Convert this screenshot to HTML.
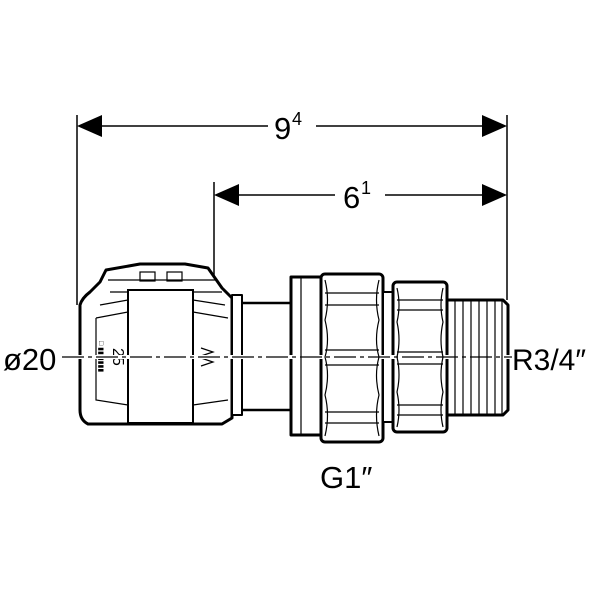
<!DOCTYPE html>
<html><head><style>html,body{margin:0;padding:0;background:#fff}</style></head>
<body>
<svg width="600" height="600" viewBox="0 0 600 600" xmlns="http://www.w3.org/2000/svg" font-family="Liberation Sans, sans-serif">
<rect width="600" height="600" fill="#fff"/>
<g stroke="#000" fill="none" stroke-width="1.5">
<line x1="77" y1="115" x2="77" y2="305"/>
<line x1="214" y1="182" x2="214" y2="345"/>
<line x1="507" y1="115" x2="507" y2="300"/>
<line x1="100" y1="126" x2="268" y2="126"/>
<line x1="316" y1="126" x2="484" y2="126"/>
<line x1="237" y1="195" x2="335" y2="195"/>
<line x1="385" y1="195" x2="484" y2="195"/>
</g>
<g fill="#000">
<polygon points="77,126 102,115 102,137"/>
<polygon points="507,126 482,115 482,137"/>
<polygon points="214,195 239,184 239,206"/>
<polygon points="507,195 482,184 482,206"/>
</g>
<text x="274" y="139" font-size="31">9</text><text x="292" y="125" font-size="18">4</text>
<text x="343" y="208" font-size="31">6</text><text x="361" y="194" font-size="18">1</text>
<text x="3" y="370" font-size="31">ø20</text>
<text x="512" y="370" font-size="30">R3/4″</text>
<text x="320" y="488" font-size="31">G1″</text>

<g stroke="#000" stroke-width="3" fill="#fff" stroke-linejoin="round">
<rect x="235" y="303" width="57" height="107" stroke-width="2.5"/>
<path d="M80,305 Q82,298 90,292 L100,282 L106,270 L140,264 L185,264 L208,268 L222,288 L232,298 L232,418 L222,424 L88,424 Q80,420 80,410 Z"/>
<rect x="232" y="295" width="10" height="120" stroke-width="2"/>
<rect x="291" y="277" width="30" height="158"/>
<rect x="321" y="274" width="62" height="168" rx="4"/>
<rect x="383" y="292" width="10" height="130" stroke-width="2"/>
<rect x="393" y="282" width="54" height="150" rx="4"/>
<path d="M447,300 L503,300 L508,305 L508,410 L503,415 L447,415 Z"/>
</g>
<g stroke="#000" stroke-width="1.2" fill="none">
<rect x="128" y="290" width="65" height="133" stroke-width="2"/>
<path d="M96,318 L128,312 M96,318 L96,400 L128,405 M193,312 L228,318 M193,405 L228,400"/>
<rect x="140" y="272" width="15" height="9"/><rect x="167" y="272" width="15" height="9"/>
<path d="M108,280 L215,280 M110,292 L128,292 M193,292 L222,292"/>
<path d="M100,305 L128,300 M193,300 L225,305"/>
<path d="M201,348 L213,352 L201,356 M201,358 L213,362 L201,366"/>
<text x="108" y="361" font-size="16" transform="rotate(90 117 357)" stroke="none" fill="#000">25</text>
<text x="70" y="344" font-size="7" transform="rotate(90 86 357)" stroke="none" fill="#000">□ ▮▮ ▮▮▮▮</text>
</g>
<line x1="62" y1="357" x2="512" y2="357" stroke="#fff" stroke-width="4"/>
<line x1="62" y1="357" x2="512" y2="357" stroke="#000" stroke-width="1.2" stroke-dasharray="22,4,4,4"/>
<g stroke="#000" stroke-width="1.2" fill="none">
<path d="M325,280 Q330,300 325,320 Q330,340 325,357 Q330,375 325,395 Q330,415 325,436"/>
<path d="M379,280 Q374,300 379,320 Q374,340 379,357 Q374,375 379,395 Q374,415 379,436"/>
<path d="M325,293 L379,293 M325,305 L379,305 M325,350 L379,350 M325,365 L379,365 M325,412 L379,412 M325,423 L379,423"/>
<path d="M397,288 Q401,305 397,322 Q401,340 397,357 Q401,375 397,392 Q401,410 397,427"/>
<path d="M443,288 Q439,305 443,322 Q439,340 443,357 Q439,375 443,392 Q439,410 443,427"/>
<path d="M397,300 L443,300 M397,310 L443,310 M397,352 L443,352 M397,364 L443,364 M397,405 L443,405 M397,415 L443,415"/>
<line x1="301" y1="277" x2="301" y2="435"/>
<path d="M455,300V415M463,300V415M471,300V415M479,300V415M487,300V415M495,300V415M502,300V415"/>
</g>
</svg>
</body></html>
